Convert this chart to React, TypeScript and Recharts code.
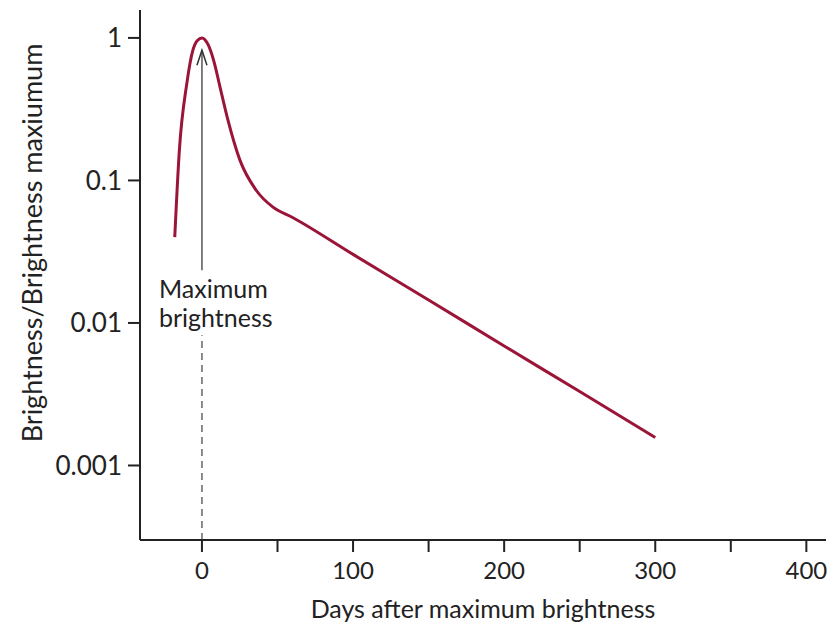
import { LineChart, Line, XAxis, YAxis, ReferenceLine } from 'recharts'

// days after maximum, relative brightness
const days = [-18, -15, -10, -6, -3, 0, 4, 8, 12, 17, 25, 36, 47, 60, 100, 150, 200, 250, 300]
const brightness = [0.04, 0.16, 0.48, 0.82, 0.96, 1.0, 0.9, 0.68, 0.45, 0.27, 0.14, 0.085, 0.065, 0.055, 0.0303, 0.0145, 0.0069, 0.0033, 0.00157]

const xTicks = [0, 50, 100, 150, 200, 250, 300, 350, 400]
const yTicks = [0.001, 0.01, 0.1, 1]

const data = days.map((d, i) => ({ day: d, value: brightness[i] }))

const font = 'Lato, sans-serif'
const ink = '#222'

function Arrow(props: any) {
  const { x1, y1, x2, y2 } = props
  const x = (x1 + x2) / 2
  const top = Math.min(y1, y2)
  const bottom = Math.max(y1, y2)
  return (
    <g>
      <line x1={x} y1={bottom} x2={x} y2={top} stroke="#555" strokeWidth={1.5} />
      <polyline points={`${x - 5},${top + 15} ${x},${top} ${x + 5},${top + 15}`} fill="none" stroke="#333" strokeWidth={1.5} />
      <text x={x - 43} y={bottom + 28} fontFamily={font} fontSize={25} fill={ink}>Maximum</text>
      <text x={x - 43} y={bottom + 57} fontFamily={font} fontSize={25} fill={ink}>brightness</text>
    </g>
  )
}

function App() {
  return (
    <div style={{ width: 832, height: 615 }}>
      <LineChart width={832} height={615} data={data} margin={{ top: 2, right: 14, left: 0, bottom: 0 }}>
        <XAxis
          dataKey="day"
          type="number"
          domain={[-41, 413]}
          ticks={xTicks}
          tickFormatter={(v: number) => (v % 100 === 0 ? String(v) : '')}
          height={83}
          stroke={ink}
          strokeWidth={2}
          tickSize={12}
          tickMargin={10}
          tick={{ fill: ink, fontFamily: font, fontSize: 24 }}
          allowDataOverflow
          label={{
            content: ({ viewBox }: any) => (
              <text x={viewBox.x + viewBox.width / 2} y={viewBox.y + 78} textAnchor="middle" fontFamily={font} fontSize={25} fill={ink}>
                Days after maximum brightness
              </text>
            ),
          }}
        />
        <YAxis
          type="number"
          scale="log"
          domain={[0.0003, 1.57]}
          ticks={yTicks}
          tickFormatter={(v: number) => String(v)}
          width={132}
          stroke={ink}
          strokeWidth={2}
          tickSize={12}
          tickMargin={6}
          tick={{ fill: ink, fontFamily: font, fontSize: 26 }}
          allowDataOverflow
          label={{
            content: ({ viewBox }: any) => {
              const cx = viewBox.x + 23
              const cy = viewBox.y + viewBox.height / 2 - 32
              return (
                <text x={cx} y={cy} transform={`rotate(-90 ${cx} ${cy})`} textAnchor="middle" dominantBaseline="central" fontFamily={font} fontSize={27} fill={ink}>
                  Brightness/Brightness maxiumum
                </text>
              )
            },
          }}
        />
        <ReferenceLine
          segment={[{ x: 0, y: 0.0003 }, { x: 0, y: 0.0082 }]}
          stroke="#666"
          strokeWidth={1.5}
          strokeDasharray="7 5"
        />
        <ReferenceLine
          segment={[{ x: 0, y: 0.0234 }, { x: 0, y: 0.82 }]}
          shape={Arrow}
        />
        <Line
          type="monotone"
          dataKey="value"
          stroke="#9a1538"
          strokeWidth={3}
          dot={false}
          isAnimationActive={false}
        />
      </LineChart>
    </div>
  )
}

export default App
